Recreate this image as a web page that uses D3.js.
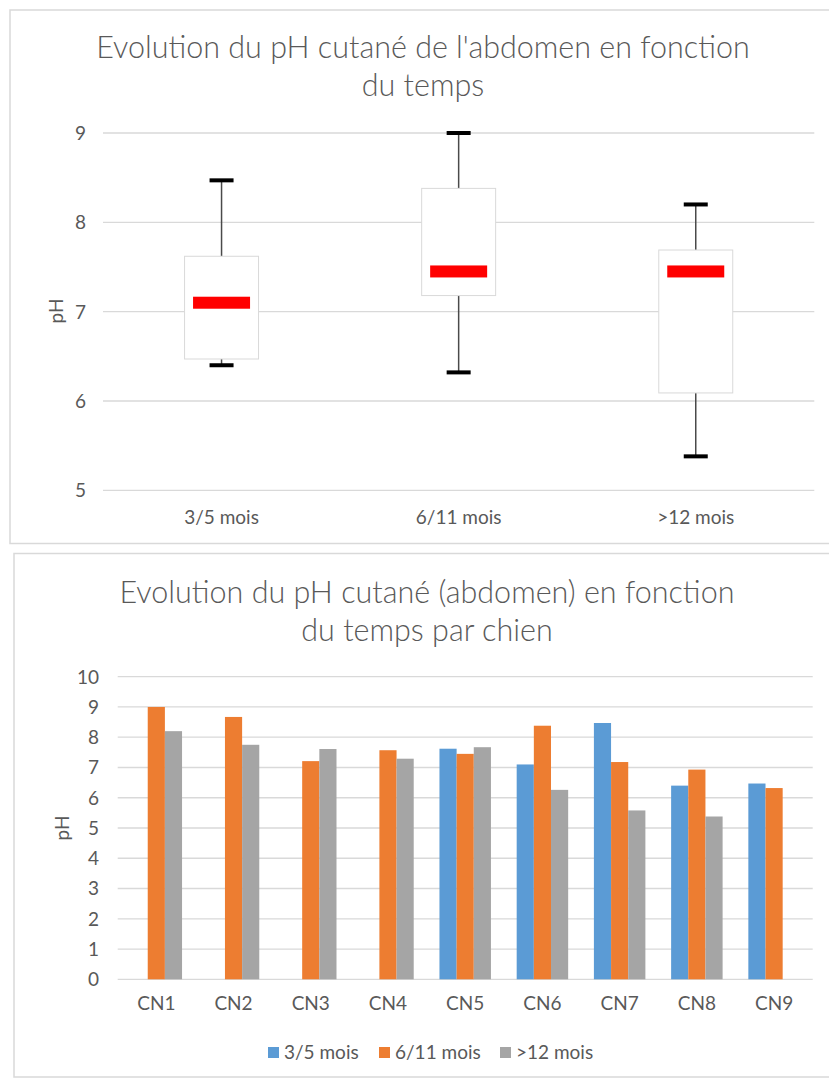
<!DOCTYPE html>
<html>
<head>
<meta charset="utf-8">
<script src="https://cdn.jsdelivr.net/npm/d3@7"></script>
<style>
  html, body { margin: 0; padding: 0; background: #ffffff; }
  svg { display: block; }
  text { font-family: Lato, "Open Sans", sans-serif; fill: #595959; }
  .title { font-size: 30.5px; font-weight: 300; }
</style>
</head>
<body>
<svg id="chart" width="829" height="1079"></svg>
<script>
// pH measured on the abdomen of each dog, per age period (null = no measure)
const dogs = ["CN1", "CN2", "CN3", "CN4", "CN5", "CN6", "CN7", "CN8", "CN9"];
const periods = ["3/5 mois", "6/11 mois", ">12 mois"];
const ph3to5 = [null, null, null, null, 7.62, 7.10, 8.47, 6.40, 6.47];
const ph6to11 = [9.00, 8.67, 7.21, 7.57, 7.45, 8.38, 7.18, 6.93, 6.32];
const phOver12 = [8.20, 7.75, 7.61, 7.29, 7.67, 6.26, 5.58, 5.38, null];
const seriesColors = ["#5b9bd5", "#ed7d31", "#a5a5a5"];

const boxTicks = [5, 6, 7, 8, 9];
const barTicks = [0, 1, 2, 3, 4, 5, 6, 7, 8, 9, 10];

const seriesValues = [ph3to5, ph6to11, phOver12];

const svg = d3.select("#chart");
const gridColor = "#d9d9d9";

// ---------- Chart 1 : box plot per period ----------
const boxChart = svg.append("g");
boxChart.append("rect")
  .attr("x", 10).attr("y", 10).attr("width", 830).attr("height", 533.5)
  .attr("fill", "#fff").attr("stroke", gridColor).attr("stroke-width", 1.5);

boxChart.append("text").attr("class", "title").attr("text-anchor", "middle").attr("x", 423).attr("y", 58)
  .text("Evolution du pH cutané de l'abdomen en fonction");
boxChart.append("text").attr("class", "title").attr("text-anchor", "middle").attr("x", 423).attr("y", 96)
  .text("du temps");

const y1 = d3.scaleLinear().domain([5, 9]).range([490.3, 133]);
const x1 = d3.scaleBand().domain(periods).range([103, 814.3]).padding(0);

boxChart.append("g").selectAll("line").data(boxTicks).join("line")
  .attr("x1", 103).attr("x2", 814.3)
  .attr("y1", d => y1(d)).attr("y2", d => y1(d))
  .attr("stroke", gridColor).attr("stroke-width", 1.3);

const yAxis1 = d3.axisLeft(y1).tickValues(boxTicks).tickSize(0).tickPadding(0).tickFormat(d3.format("d"));
boxChart.append("g").attr("transform", "translate(86,0)").call(yAxis1)
  .call(g => g.select(".domain").remove())
  .selectAll("text").style("font-size", "19px").attr("fill", "#595959").attr("dy", "0.34em");

const xAxis1 = d3.axisBottom(x1).tickSize(0).tickPadding(0);
boxChart.append("g").attr("transform", "translate(0,510)").call(xAxis1)
  .call(g => g.select(".domain").remove())
  .selectAll("text").style("font-size", "19px").attr("fill", "#595959").attr("dy", "0.71em");

boxChart.append("text").attr("transform", "translate(63,311) rotate(-90)")
  .attr("text-anchor", "middle").style("font-size", "19px").text("pH");

// summary statistics (inclusive quartiles) from the per-dog values
const stats = periods.map((p, i) => {
  const v = seriesValues[i].filter(d => d != null).sort(d3.ascending);
  return {
    period: p,
    min: d3.min(v), max: d3.max(v),
    q1: d3.quantileSorted(v, 0.25), med: d3.quantileSorted(v, 0.5), q3: d3.quantileSorted(v, 0.75)
  };
});

const boxW = x1.bandwidth() * 0.312;
const capW = 24;
const medW = 57;
const boxes = boxChart.append("g").selectAll("g").data(stats).join("g")
  .attr("transform", d => `translate(${x1(d.period) + x1.bandwidth() / 2},0)`);

boxes.append("line").attr("x1", 0).attr("x2", 0)
  .attr("y1", d => y1(d.q3)).attr("y2", d => y1(d.max))
  .attr("stroke", "#4a4a4a").attr("stroke-width", 1.5);
boxes.append("line").attr("x1", 0).attr("x2", 0)
  .attr("y1", d => y1(d.q1)).attr("y2", d => y1(d.min))
  .attr("stroke", "#4a4a4a").attr("stroke-width", 1.5);
boxes.append("rect").attr("x", -boxW / 2).attr("width", boxW)
  .attr("y", d => y1(d.q3)).attr("height", d => y1(d.q1) - y1(d.q3))
  .attr("fill", "#fff").attr("stroke", gridColor).attr("stroke-width", 1);
boxes.append("rect").attr("x", -capW / 2).attr("width", capW)
  .attr("y", d => y1(d.max) - 2).attr("height", 4).attr("fill", "#000");
boxes.append("rect").attr("x", -capW / 2).attr("width", capW)
  .attr("y", d => y1(d.min) - 2).attr("height", 4).attr("fill", "#000");
boxes.append("rect").attr("x", -medW / 2).attr("width", medW)
  .attr("y", d => y1(d.med) - 6).attr("height", 12).attr("fill", "#ff0000");

// ---------- Chart 2 : clustered bars per dog ----------
const barChart = svg.append("g");
barChart.append("rect")
  .attr("x", 14).attr("y", 553.5).attr("width", 830).attr("height", 523.5)
  .attr("fill", "#fff").attr("stroke", gridColor).attr("stroke-width", 1.5);

barChart.append("text").attr("class", "title").attr("text-anchor", "middle").attr("x", 427).attr("y", 603)
  .text("Evolution du pH cutané (abdomen) en fonction");
barChart.append("text").attr("class", "title").attr("text-anchor", "middle").attr("x", 427).attr("y", 641)
  .text("du temps par chien");

const y2 = d3.scaleLinear().domain([0, 10]).range([979.3, 676.7]);
const x2 = d3.scaleBand().domain(dogs).range([117.7, 812.7]).padding(0);
const groupW = x2.bandwidth() / 1.5;
const xs = d3.scaleBand().domain(periods).range([0, groupW]);

barChart.append("g").selectAll("line").data(barTicks).join("line")
  .attr("x1", 117.7).attr("x2", 812.7)
  .attr("y1", d => y2(d)).attr("y2", d => y2(d))
  .attr("stroke", gridColor).attr("stroke-width", 1.3);

const yAxis2 = d3.axisLeft(y2).tickValues(barTicks).tickSize(0).tickPadding(0).tickFormat(d3.format("d"));
barChart.append("g").attr("transform", "translate(99,0)").call(yAxis2)
  .call(g => g.select(".domain").remove())
  .selectAll("text").style("font-size", "19px").attr("fill", "#595959").attr("dy", "0.34em");

const xAxis2 = d3.axisBottom(x2).tickSize(0).tickPadding(0);
barChart.append("g").attr("transform", "translate(0,996)").call(xAxis2)
  .call(g => g.select(".domain").remove())
  .selectAll("text").style("font-size", "19px").attr("fill", "#595959").attr("dy", "0.71em");

barChart.append("text").attr("transform", "translate(69,828) rotate(-90)")
  .attr("text-anchor", "middle").style("font-size", "19px").text("pH");

const barData = [];
seriesValues.forEach((vals, si) => vals.forEach((v, di) => {
  if (v != null) barData.push({ dog: dogs[di], period: periods[si], value: v, color: seriesColors[si] });
}));

barChart.append("g").selectAll("rect").data(barData).join("rect")
  .attr("x", d => x2(d.dog) + (x2.bandwidth() - groupW) / 2 + xs(d.period))
  .attr("width", xs.bandwidth())
  .attr("y", d => y2(d.value))
  .attr("height", d => y2(0) - y2(d.value))
  .attr("fill", d => d.color);

// legend
const legendX = [268, 379, 500];
const legend = barChart.append("g").selectAll("g").data(periods).join("g")
  .attr("transform", (d, i) => `translate(${legendX[i]},1047)`);
legend.append("rect").attr("width", 11).attr("height", 11)
  .attr("fill", (d, i) => seriesColors[i]);
legend.append("text").attr("x", 16).attr("y", 5.5).attr("dy", "0.35em")
  .style("font-size", "19px").text(d => d);
</script>
</body>
</html>
